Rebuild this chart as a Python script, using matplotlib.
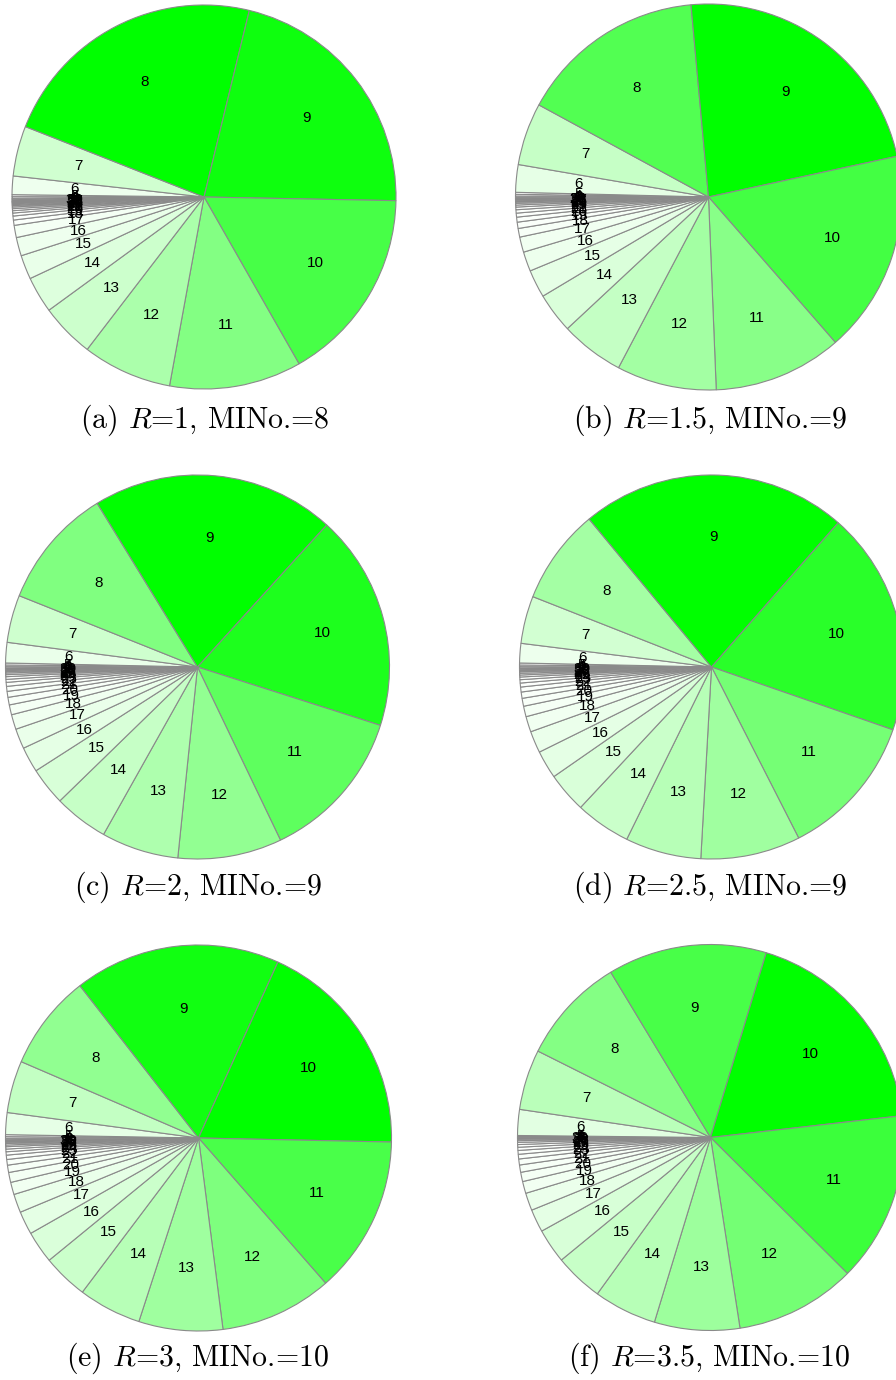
import matplotlib
matplotlib.use("Agg")
import matplotlib.pyplot as plt
from matplotlib.colors import LinearSegmentedColormap, Normalize

plt.rcParams['mathtext.fontset'] = 'cm'

labels = [str(i) for i in range(1, 31)]

# slice sizes (degrees of the pie), slices 1..30
sizes_a = [0.2, 0.3, 0.4, 0.5, 0.6, 5.6, 15.2, 82.1, 77.4, 59.2, 40.0, 27.1, 16.4, 11.0, 7.3, 5.6,
           3.7, 1.6, 1.2, 0.9, 0.7, 0.6, 0.5, 0.4, 0.3, 0.3, 0.25, 0.2, 0.15, 0.1]
sizes_b = [0.2, 0.3, 0.4, 0.5, 0.6, 8.3, 18.8, 56.3, 83.0, 61.1, 38.8, 30.1, 19.2, 12.1, 8.4, 5.9,
           4.6, 2.6, 1.9, 1.5, 1.2, 1.0, 0.8, 0.6, 0.5, 0.4, 0.3, 0.25, 0.2, 0.15]
sizes_c = [0.2, 0.3, 0.4, 0.5, 0.6, 6.2, 14.4, 36.7, 73.8, 65.4, 46.7, 31.5, 23.4, 16.5, 11.5, 7.7,
           6.1, 4.5, 3.0, 2.3, 1.8, 1.5, 1.2, 0.9, 0.8, 0.6, 0.5, 0.4, 0.35, 0.25]
sizes_d = [0.2, 0.3, 0.4, 0.5, 0.6, 5.9, 14.4, 28.9, 80.9, 67.8, 43.9, 30.2, 23.0, 16.8, 12.2, 8.5,
           6.6, 4.7, 3.2, 2.4, 1.9, 1.5, 1.2, 1.0, 0.8, 0.6, 0.5, 0.45, 0.35, 0.3]
sizes_e = [0.2, 0.3, 0.4, 0.5, 0.6, 6.6, 15.7, 28.8, 62.2, 66.9, 47.6, 33.9, 25.3, 19.0, 13.7, 9.7,
           7.0, 5.6, 3.7, 3.0, 2.2, 1.7, 1.3, 1.0, 0.8, 0.7, 0.5, 0.45, 0.35, 0.3]
sizes_f = [0.1, 0.1, 0.15, 0.2, 0.3, 7.8, 18.2, 32.3, 47.9, 66.7, 51.3, 36.4, 25.7, 19.0, 14.7, 10.4,
           6.9, 5.3, 3.6, 2.8, 2.2, 1.8, 1.4, 1.15, 0.95, 0.8, 0.65, 0.5, 0.4, 0.3]

start_angles = [181.3, 180.6, 180.8, 180.8, 181.0, 180.25]
captions = [r'(a) $R$=1, MINo.=8', r'(b) $R$=1.5, MINo.=9', r'(c) $R$=2, MINo.=9',
            r'(d) $R$=2.5, MINo.=9', r'(e) $R$=3, MINo.=10', r'(f) $R$=3.5, MINo.=10']

all_sizes = [sizes_a, sizes_b, sizes_c, sizes_d, sizes_e, sizes_f]

# layout in pixels (centre x, centre y from top, radius)
W, H = 896, 1380
centres = [(204, 197, 192), (708.5, 197, 193), (197.5, 667, 192),
           (711.5, 667, 192), (198.5, 1138, 193), (710.5, 1137.5, 193)]
caption_pos = [(205, 420), (710, 420), (198, 887), (710, 887), (197, 1358), (709, 1358)]

cmap = LinearSegmentedColormap.from_list('wg', ['#ffffff', '#00ff00'])

fig = plt.figure(figsize=(W / 100, H / 100), dpi=100)
pad = 1.02
for sizes, sa, (cx, cy, r), cap, (tx, ty) in zip(all_sizes, start_angles,
                                                centres, captions, caption_pos):
    R = r * pad
    ax = fig.add_axes([(cx - R) / W, (H - cy - R) / H, 2 * R / W, 2 * R / H])
    norm = Normalize(0, max(sizes))
    colors = [cmap(norm(v)) for v in sizes]
    ax.pie(sizes, labels=labels, colors=colors, startangle=sa,
           counterclock=False, labeldistance=0.675,
           wedgeprops=dict(edgecolor='#8a8a8a', linewidth=0.8),
           textprops=dict(ha='center', va='center', fontsize=11,
                          family='Liberation Sans', color='black'))
    ax.set_xlim(-pad, pad)
    ax.set_ylim(-pad, pad)
    ax.axis('off')
    fig.text(tx / W, 1 - ty / H, cap, ha='center', va='center', fontsize=21.5, family='cmr10')

fig.savefig('out.png', dpi=100)
